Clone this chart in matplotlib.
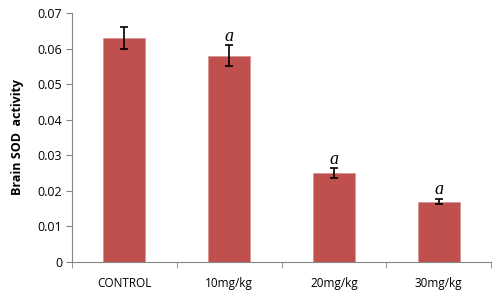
import matplotlib
matplotlib.use("Agg")
import matplotlib.pyplot as plt
import numpy as np

categories = ["CONTROL", "10mg/kg", "20mg/kg", "30mg/kg"]
values = [0.063, 0.058, 0.025, 0.017]
errors = [0.0032, 0.0029, 0.0013, 0.0007]
sig = ["", "a", "a", "a"]
yticks = [0, 0.01, 0.02, 0.03, 0.04, 0.05, 0.06, 0.07]
ytick_labels = ["0", "0.01", "0.02", "0.03", "0.04", "0.05", "0.06", "0.07"]

plt.rcParams['font.family'] = ['Open Sans', 'DejaVu Sans']
fig = plt.figure(figsize=(5, 3.02), dpi=100)
ax = fig.add_axes([0.144, 0.1325, 0.838, 0.8245])

x = np.arange(len(categories))
ax.bar(x, values, width=0.4, color="#C0504D", edgecolor="#D99694", linewidth=0.6,
       yerr=errors, error_kw=dict(ecolor="black", elinewidth=1.2, capsize=3, capthick=1.2))
for xi, v, e, s in zip(x, values, errors, sig):
    if s:
        ax.text(xi, v + e + 0.0002, s, ha="center", va="bottom",
                family=["Liberation Serif", "DejaVu Serif"], style="italic", fontsize=13)

ax.set_xlim(-0.5, len(categories) - 0.5)
ax.set_ylim(0, 0.07)
ax.set_yticks(yticks)
ax.set_yticklabels(ytick_labels, fontsize=9)
ax.set_xticks(x)
ax.set_xticklabels(categories, fontsize=8.5)
ax.set_xticks(np.arange(-0.5, len(categories)), minor=True)
ax.tick_params(axis="x", which="major", length=0, pad=11)
ax.tick_params(axis="x", which="minor", length=4, color="#868686", direction="out")
ax.tick_params(axis="y", length=4, color="#868686", direction="out", pad=3)
for sp in ["top", "right"]:
    ax.spines[sp].set_visible(False)
for sp in ["left", "bottom"]:
    ax.spines[sp].set_color("#868686")
    ax.spines[sp].set_linewidth(0.8)
ax.set_ylabel("Brain SOD  activity", fontsize=9, fontweight="bold", labelpad=10)

fig.savefig("out.png", dpi=100)
